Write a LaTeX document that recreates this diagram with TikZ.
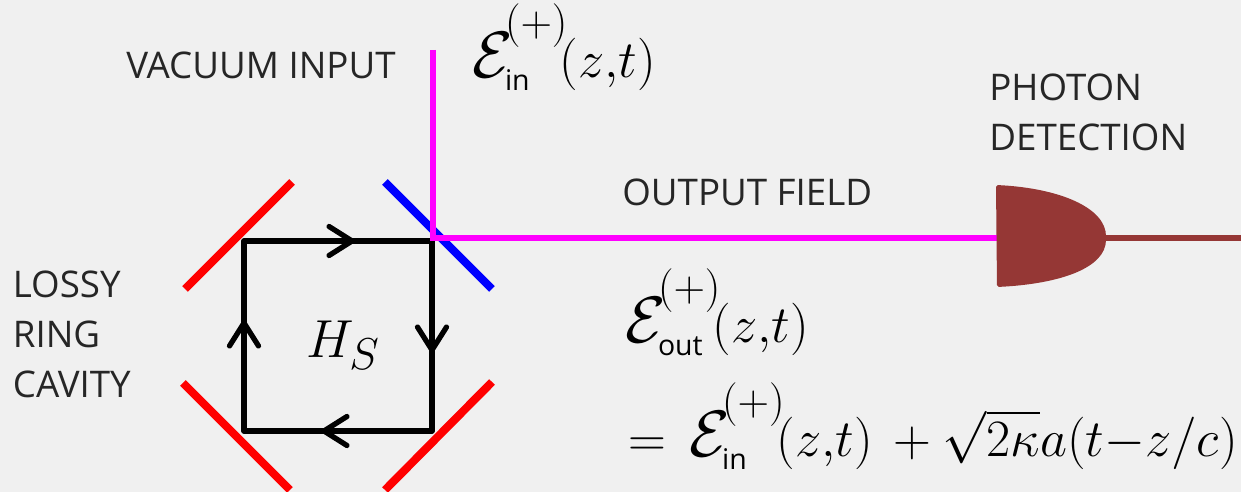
\documentclass[tikz,border=0pt]{standalone}
\usepackage{amsmath}
\usepackage[no-math]{fontspec}
\setmainfont{Open Sans}
\usetikzlibrary{arrows.meta}
\definecolor{bgcol}{HTML}{F0F0F0}
\definecolor{detcol}{HTML}{953735}
\definecolor{fieldcol}{HTML}{FF00FF}
\newcommand{\subtxt}[1]{\mbox{\fontsize{13.5}{14}\selectfont #1}}
\newcommand{\fieldE}{{\scalebox{1.25}{$\mathcal{E}$}\rule[-0.2em]{0pt}{1.32em}\kern-0.15em}}

\begin{document}
\begin{tikzpicture}[
    x=0.02cm, y=-0.02cm,
    mirror/.style={line width=4.6pt, red},
    beamline/.style={line width=3pt, line join=miter, fieldcol},
    ringline/.style={line width=3pt, line join=round, black},
    ringarrow/.style={ringline, -{Straight Barb[length=0.46cm, width=0.58cm, line cap=round]}},
    lbl/.style={font=\fontsize{20.9}{28.4}\selectfont, align=left, inner sep=0pt, text=black!85},
    eqn/.style={font=\Huge, scale=1.2, inner sep=0pt},
]
\useasboundingbox[fill=bgcol] (0,0) rectangle (1241,492);

% Cavity mirrors
\foreach \xa/\ya/\xb/\yb in {292/182/185/289, 183/383/290/490, 492/382/385/490} {
    \draw[mirror] (\xa,\ya) -- (\xb,\yb);
}
\draw[mirror, blue] (385,182) -- (492,289);

% Ring path
\coordinate (c_tl) at (244,241);
\coordinate (c_tr) at (432,241);
\coordinate (c_br) at (432,431);
\coordinate (c_bl) at (244,431);
\coordinate (m_t) at (357,241);
\coordinate (m_r) at (432,355);
\coordinate (m_b) at (319,431);
\coordinate (m_l) at (244,318);
\draw[ringline] (c_tl) -- (c_tr) -- (c_br) -- (c_bl) -- cycle;
\draw[ringarrow] (c_tl) -- (m_t);
\draw[ringarrow] (c_tr) -- (m_r);
\draw[ringarrow] (c_br) -- (m_b);
\draw[ringarrow] (c_bl) -- (m_l);

% Input and output field
\coordinate (in_top) at (433,50);
\coordinate (bs) at (433,238);
\coordinate (det_in) at (997,238);
\coordinate (det_tip) at (1105,238);
\coordinate (det_out) at (1241,238);
\draw[beamline] (in_top) -- (bs) -- (det_in);

% Detector
\draw[line width=3pt, detcol] (det_tip) -- (det_out);
\fill[detcol, rounded corners=1pt] (996,185) .. controls (1060,188) and (1106,208) .. (1106,238)
    .. controls (1106,268) and (1060,284) .. (997,287) -- cycle;

% Labels
\node[lbl, anchor=west] (vac) at (126,65) {VACUUM INPUT};
\node[lbl, anchor=west] (photon) at (989,112) {PHOTON\\DETECTION};
\node[lbl, anchor=west] (output) at (622,192) {OUTPUT FIELD};
\node[lbl, anchor=west] (lossy) at (12.5,334) {LOSSY\\RING\\CAVITY};
\node[eqn, scale=1.02] (hs) at (343,345) {$H_S$};

% Field equations
\node[eqn, anchor=base west] (e_in) at (472,78) {$\fieldE_{\subtxt{in}}^{(+)}\!(z{,}t)$};
\node[eqn, anchor=base west] (e_out) at (625,343) {$\fieldE_{\subtxt{out}}^{(+)}\!(z{,}t)$};
\node[eqn, anchor=base west] (e_sum) at (628,457) {$=\,\fieldE_{\subtxt{in}}^{(+)}\!(z{,}t)\,+\sqrt{2\kappa}a(t{-}z/c)$};

\end{tikzpicture}
\end{document}
